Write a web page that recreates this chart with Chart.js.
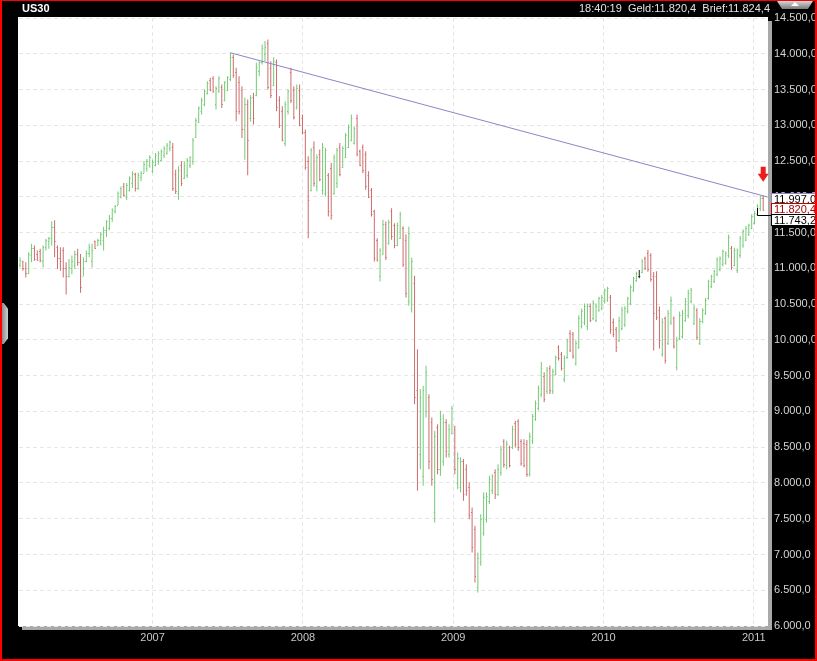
<!DOCTYPE html>
<html>
<head>
<meta charset="utf-8">
<style>
  html, body { margin: 0; padding: 0; background: #000; }
  #wrap { position: relative; width: 817px; height: 661px; background: #000; overflow: hidden; }
  #chart { position: absolute; left: 0; top: 0; }
  #frame { position: absolute; left: 0; top: 0; width: 817px; height: 661px; box-sizing: border-box;
           border: 2px solid #ff0000; border-top-width: 1px; pointer-events: none; }
  #title { position: absolute; left: 22px; top: 2px; color: #fff; font: bold 11px 'Liberation Sans', Arial, sans-serif; }
  #quote { position: absolute; right: 47px; top: 2px; color: #e2e2e2; font: 11px 'Liberation Sans', Arial, sans-serif; white-space: pre; }
  #btn { position: absolute; left: 777px; top: 1px; width: 36px; height: 8px;
         background: linear-gradient(#d8d8d8, #7a7a7a); clip-path: polygon(0 0, 100% 0, 86% 100%, 14% 100%); }
  #btn:after { content: ''; position: absolute; left: 14px; top: 1px; border-left: 4px solid transparent;
               border-right: 4px solid transparent; border-bottom: 4px solid #fff; }
  #tab { position: absolute; left: 2px; top: 303px; width: 6px; height: 41px;
         background: linear-gradient(90deg, #8a8a8a, #d0d0d0);
         clip-path: polygon(0 0, 30% 0, 100% 14%, 100% 86%, 30% 100%, 0 100%); }
</style>
</head>
<body>
<div id="wrap">
  <canvas id="chart" width="817" height="661"></canvas>
  <div id="title">US30</div>
  <div id="quote">18:40:19  Geld:11.820,4  Brief:11.824,4</div>
  <div id="btn"></div>
  <div id="tab"></div>
  <div id="frame"></div>
</div>
<script src="https://cdn.jsdelivr.net/npm/chart.js@4"></script>
<script>
// weekly bars, first week starting Monday 13 Feb 2006
const firstWeek = '2006-02-13';

const highs = [
  11155, 11108, 11084, 11226, 11344, 11320, 11249, 11273, 11320, 11414,
  11438, 11660, 11674, 11320, 11296, 11296, 11084, 11131, 11178, 11249,
  11273, 11202, 11155, 11249, 11344, 11344, 11391, 11414, 11509, 11580,
  11674, 11745, 11839, 11886, 12075, 12146, 12193, 12193, 12288, 12358,
  12335, 12335, 12358, 12500, 12530, 12580, 12520, 12613, 12636, 12660,
  12706, 12753, 12786, 12753, 12380, 12426, 12496, 12496, 12543, 12566,
  12823, 13103, 13267, 13384, 13500, 13617, 13664, 13687, 13547, 13687,
  13570, 13617, 13687, 14014, 13991, 13804, 13687, 13547, 13384, 13360,
  13420, 13454, 13874, 13897, 14131, 14180, 14200, 13897, 13953, 13920,
  13407, 13267, 13337, 13500, 13804, 13547, 13570, 13570, 13150, 12940,
  12566, 12683, 12776, 12590, 12660, 12753, 12683, 12333, 12473, 12590,
  12683, 12753, 12706, 12893, 13010, 13150, 12987, 13150, 12660, 12730,
  12636, 12356, 12123, 11820, 11422, 11282, 11679, 11656, 11679, 11842,
  11632, 11640, 11790, 11590, 11478, 11581, 11152, 10896, 9870, 9311,
  9358, 9638, 9241, 8915, 8729, 8822, 9008, 8962, 8892, 8822,
  9078, 8799, 8426, 8356, 8333, 8263, 8007, 7657, 7400, 7028,
  7564, 7867, 7867, 8100, 8123, 8193, 8263, 8519, 8612, 8589,
  8519, 8799, 8869, 8892, 8612, 8612, 8600, 8700, 8964, 9151,
  9362, 9690, 9549, 9620, 9643, 9596, 9783, 9924, 9830, 9783,
  10017, 10134, 10111, 9994, 10345, 10438, 10509, 10509, 10509, 10555,
  10509, 10602, 10626, 10719, 10743, 10626, 10298, 10181, 10322, 10462,
  10471, 10602, 10766, 10883, 10953, 10977, 11126, 11164, 11257, 11211,
  10950, 10959, 10465, 10302, 10326, 10419, 10607, 10326, 10044, 10396,
  10419, 10584, 10701, 10724, 10490, 10443, 10302, 10443, 10584, 10842,
  10912, 10982, 11156, 11170, 11264, 11240, 11475, 11311, 11287, 11278,
  11452, 11545, 11592, 11625, 11756, 11803, 11897, 12014, 12014
];

const lows = [
  11013, 10966, 10872, 10919, 11084, 11108, 11108, 11084, 11013, 11249,
  11273, 11320, 11155, 10990, 10966, 10872, 10636, 10872, 10919, 10990,
  11037, 10659, 10896, 11084, 11155, 11013, 11273, 11320, 11320, 11249,
  11438, 11532, 11650, 11768, 11886, 11981, 12004, 11957, 12075, 12122,
  12075, 12099, 12217, 12335, 12350, 12405, 12333, 12426, 12450, 12496,
  12543, 12590, 12636, 12080, 12040, 11960, 12150, 12250, 12263, 12403,
  12450, 12823, 13033, 13150, 13267, 13430, 13477, 13454, 13220, 13454,
  13243, 13337, 13477, 13617, 13664, 13057, 13150, 12823, 12520, 12300,
  13050, 13010, 13407, 13687, 13850, 13900, 13500, 13383, 13547, 13197,
  12963, 12776, 12706, 13150, 13313, 13080, 13220, 12987, 12870, 12380,
  11422, 12076, 12146, 12076, 12216, 12029, 12006, 11726, 11679, 12029,
  12123, 12286, 12403, 12543, 12683, 12776, 12730, 12566, 12426, 12333,
  12099, 11982, 11726, 11095, 11095, 10815, 11189, 11118, 11329, 11399,
  11282, 11310, 11410, 11020, 10593, 10476, 10383, 9101, 7890, 8193,
  7960, 8915, 8193, 7960, 7447, 8123, 8100, 8240, 8356, 8356,
  8682, 8123, 7913, 7867, 7750, 7820, 7494, 7028, 6608, 6469,
  6842, 7261, 7447, 7704, 7844, 7774, 7820, 8100, 8217, 8193,
  8217, 8473, 8496, 8449, 8240, 8217, 8085, 8090, 8543, 8871,
  9011, 9198, 9128, 9245, 9245, 9245, 9502, 9713, 9573, 9409,
  9736, 9830, 9736, 9643, 9877, 10158, 10204, 10134, 10251, 10275,
  10251, 10392, 10415, 10509, 10532, 10087, 10041, 9830, 9970, 10134,
  10181, 10368, 10485, 10672, 10813, 10860, 10930, 10977, 10953, 10813,
  9850, 10279, 9880, 9763, 9669, 9927, 10208, 9880, 9575, 9997,
  10021, 10255, 10302, 10513, 10208, 9997, 9927, 10232, 10349, 10560,
  10724, 10795, 10888, 10959, 11029, 11053, 11146, 10982, 11029, 10935,
  11146, 11287, 11381, 11451, 11545, 11615, 11733, 11803, 11810
];

const opens = [
  11040, 11100, 11010, 10940, 11190, 11290, 11200, 11240, 11100, 11300,
  11380, 11420, 11580, 11300, 11150, 11250, 11000, 10890, 11000, 11050,
  11200, 11090, 10900, 11100, 11220, 11100, 11380, 11330, 11400, 11400,
  11540, 11560, 11700, 11800, 11890, 12000, 12150, 12000, 12100, 12200,
  12320, 12120, 12280, 12340, 12400, 12450, 12360, 12450, 12500, 12520,
  12580, 12610, 12680, 12700, 12320, 12050, 12450, 12270, 12300, 12450,
  12500, 12840, 13050, 13200, 13300, 13450, 13640, 13660, 13300, 13480,
  13540, 13350, 13500, 13650, 13950, 13750, 13600, 13500, 12950, 13300,
  13100, 13400, 13420, 13760, 13880, 14000, 14150, 13800, 13560, 13880,
  13350, 13200, 12750, 13200, 13750, 13500, 13250, 13500, 13100, 12900,
  12500, 12100, 12700, 12150, 12600, 12100, 12050, 12300, 12400, 12050,
  12200, 12700, 12420, 12560, 12700, 12800, 12750, 13100, 12640, 12700,
  12600, 12300, 12100, 11800, 11400, 10900, 11200, 11620, 11350, 11800,
  11600, 11330, 11420, 11560, 11400, 10550, 10450, 10800, 9300, 8400,
  8100, 9000, 9200, 8850, 7600, 8780, 8200, 8300, 8850, 8400,
  8700, 8750, 8000, 7950, 8300, 8200, 7950, 7600, 7350, 6550,
  6900, 7300, 7500, 7750, 7900, 8150, 7850, 8150, 8580, 8250,
  8500, 8500, 8840, 8860, 8580, 8560, 8550, 8120, 8600, 8900,
  9050, 9250, 9500, 9280, 9600, 9280, 9530, 9900, 9800, 9450,
  9760, 10100, 10080, 9680, 9900, 10200, 10250, 10200, 10480, 10300,
  10280, 10420, 10440, 10540, 10560, 10600, 10250, 10150, 10000, 10170,
  10220, 10400, 10520, 10700, 10840, 10900, 10950, 11150, 11220, 11180,
  10900, 10900, 10420, 9800, 10300, 9960, 10250, 10300, 9620, 10030,
  10050, 10280, 10350, 10540, 10240, 10420, 9960, 10260, 10380, 10580,
  10750, 10820, 10920, 10990, 11060, 11080, 11180, 11290, 11050, 10970,
  11180, 11320, 11400, 11480, 11570, 11640, 11760, 11840, 11980
];

const closes = [
  11120, 11000, 10930, 11200, 11290, 11130, 11120, 11110, 11300, 11390,
  11420, 11580, 11380, 11140, 11100, 11000, 10890, 11020, 11100, 11200,
  11090, 10740, 11100, 11220, 11300, 11250, 11290, 11400, 11480, 11540,
  11660, 11700, 11820, 11870, 12050, 12120, 12020, 12170, 12260, 12340,
  12120, 12300, 12340, 12460, 12500, 12560, 12480, 12590, 12610, 12640,
  12680, 12730, 12760, 12120, 12080, 12380, 12200, 12450, 12520, 12550,
  12800, 13080, 13240, 13360, 13480, 13590, 13500, 13480, 13520, 13660,
  13300, 13600, 13670, 13960, 13700, 13200, 13200, 12950, 13300, 12800,
  13380, 13100, 13820, 13880, 14080, 14100, 13530, 13420, 13900, 13250,
  13000, 12800, 13300, 13480, 13350, 13120, 13520, 13000, 12900, 12420,
  11950, 12650, 12200, 12550, 12250, 12700, 12650, 11800, 11750, 12550,
  12650, 12320, 12680, 12860, 12980, 13100, 12960, 12600, 12450, 12380,
  12150, 12000, 11760, 11150, 11120, 11250, 11620, 11160, 11650, 11450,
  11320, 11600, 11760, 11060, 10650, 11500, 11100, 9200, 8500, 9200,
  9300, 9550, 8300, 8050, 8650, 8200, 8900, 8850, 8450, 8750,
  9050, 8200, 8350, 8300, 7850, 7900, 7550, 7100, 6700, 6950,
  7500, 7800, 7820, 8050, 8100, 7850, 8200, 8480, 8260, 8550,
  8250, 8760, 8550, 8500, 8280, 8250, 8120, 8650, 8930, 9120,
  9330, 9600, 9180, 9580, 9300, 9560, 9760, 9740, 9600, 9750,
  9990, 9860, 9770, 9960, 10300, 10400, 10480, 10470, 10280, 10520,
  10480, 10580, 10600, 10700, 10720, 10150, 10080, 9900, 10280, 10420,
  10440, 10580, 10740, 10860, 10930, 10900, 11100, 11000, 10990, 10850,
  10380, 10320, 10000, 10250, 9720, 10380, 10560, 9920, 10000, 10350,
  10380, 10550, 10660, 10700, 10450, 10040, 10260, 10420, 10560, 10820,
  10890, 10960, 11130, 11150, 11240, 11220, 11440, 11020, 11260, 11250,
  11420, 11520, 11570, 11600, 11730, 11780, 11870, 11980, 11820
];

const yearTicks = [2007, 2008, 2009, 2010, 2011];
const priceMin = 6000;
const priceMax = 14500;
const priceStep = 500;

// resistance line drawn on the chart
const trendDates = ['2007-07-09', '2011-02-04'];
const trendValues = [14014, 11997];

const lastPrice = 11820.4;
const markPrice = 11743.2;

const upColor = '#74ca74';
const downColor = '#cc6b6b';
const flatColor = '#222222';
const trendColor = '#8e84c6';
const family = "'Liberation Sans', Arial, sans-serif";

function decYear(ms) {
  const y = new Date(ms).getUTCFullYear();
  const a = Date.UTC(y, 0, 1), b = Date.UTC(y + 1, 0, 1);
  return y + (ms - a) / (b - a);
}

function fmt(v) {
  const parts = v.toFixed(1).split('.');
  return parts[0].replace(/\B(?=(\d{3})+(?!\d))/g, '.') + ',' + parts[1];
}

const startMs = Date.parse(firstWeek);
const weekX = highs.map((h, i) => decYear(startMs + i * 7 * 86400000));
const barColors = closes.map((c, i) => c > opens[i] ? upColor : (c < opens[i] ? downColor : flatColor));

const plotBg = {
  id: 'plotBg',
  beforeDraw(chart) {
    const { ctx, chartArea: a } = chart;
    ctx.save();
    ctx.fillStyle = '#a9a9a9';
    ctx.fillRect(a.left + 3, a.top + 3, a.right - a.left + 1, a.bottom - a.top + 1);
    ctx.fillStyle = '#ffffff';
    ctx.fillRect(a.left - 1, a.top - 1, a.right - a.left + 1, a.bottom - a.top + 1);
    ctx.restore();
  }
};

// open / close ticks of each bar
const ohlcTicks = {
  id: 'ohlcTicks',
  afterDatasetsDraw(chart) {
    const { ctx, scales: { x, y } } = chart;
    ctx.save();
    ctx.lineWidth = 1;
    weekX.forEach((wx, i) => {
      const px = x.getPixelForValue(wx);
      const yo = Math.round(y.getPixelForValue(opens[i])) + 0.5;
      const yc = Math.round(y.getPixelForValue(closes[i])) + 0.5;
      ctx.strokeStyle = barColors[i];
      ctx.beginPath();
      ctx.moveTo(px - 1, yo); ctx.lineTo(px, yo);
      ctx.moveTo(px, yc); ctx.lineTo(px + 1, yc);
      ctx.stroke();
    });
    ctx.restore();
  }
};

const priceMarks = {
  id: 'priceMarks',
  afterDraw(chart) {
    const { ctx, chartArea: a, scales: { x, y } } = chart;
    const n = highs.length - 1;
    const lastX = x.getPixelForValue(weekX[n]);
    ctx.save();

    // red arrow above the last bar
    const tip = y.getPixelForValue(highs[n]) - 14;
    ctx.fillStyle = '#ee1c1c';
    ctx.beginPath();
    ctx.moveTo(lastX - 2.5, tip - 15);
    ctx.lineTo(lastX + 2.5, tip - 15);
    ctx.lineTo(lastX + 2.5, tip - 8);
    ctx.lineTo(lastX + 5.5, tip - 8);
    ctx.lineTo(lastX, tip);
    ctx.lineTo(lastX - 5.5, tip - 8);
    ctx.lineTo(lastX - 2.5, tip - 8);
    ctx.closePath();
    ctx.fill();

    // marker line at the reference price
    const yLast = y.getPixelForValue(lastPrice);
    const yMark = Math.round(y.getPixelForValue(markPrice)) + 0.5;
    const mx = Math.round(x.getPixelForValue(weekX[n - 2])) + 0.5;
    ctx.strokeStyle = '#000';
    ctx.lineWidth = 1;
    ctx.beginPath();
    ctx.moveTo(mx, Math.round(yLast) - 2);
    ctx.lineTo(mx, yMark);
    ctx.lineTo(a.right + 3, yMark);
    ctx.stroke();

    // value boxes on the price axis
    ctx.font = '11px ' + family;
    ctx.textBaseline = 'middle';
    const box = (text, cy, border, color) => {
      const bx = a.right + 3, bw = 47, bh = 11;
      const by = Math.round(cy - bh / 2) + 0.5;
      ctx.fillStyle = '#fff';
      ctx.fillRect(bx, by - 0.5, bw + 1, bh + 1);
      ctx.strokeStyle = border;
      ctx.strokeRect(bx + 0.5, by, bw, bh);
      ctx.fillStyle = color;
      ctx.fillText(text, bx + 3, by + bh / 2 + 0.5);
    };
    const endValue = trendValues[trendValues.length - 1];
    box(fmt(endValue), y.getPixelForValue(endValue) + 1.5, trendColor, '#000');
    box(fmt(lastPrice), yLast - 1, '#c00000', '#b00000');
    box(fmt(markPrice), y.getPixelForValue(markPrice) + 4.5, '#000', '#000');
    ctx.restore();
  }
};

new Chart(document.getElementById('chart'), {
  type: 'bar',
  data: {
    datasets: [
      {
        type: 'line',
        order: 0,
        data: trendDates.map((d, i) => ({ x: decYear(Date.parse(d)), y: trendValues[i] })),
        borderColor: trendColor,
        borderWidth: 1,
        pointRadius: 0,
        fill: false
      },
      {
        type: 'bar',
        order: 1,
        data: weekX.map((wx, i) => ({ x: wx, y: [lows[i], highs[i]] })),
        backgroundColor: barColors,
        borderWidth: 0,
        barThickness: 1,
        inflateAmount: 0,
        grouped: false
      }
    ]
  },
  options: {
    responsive: false,
    animation: false,
    devicePixelRatio: 1,
    layout: { padding: { left: 19, top: 18, right: 0, bottom: 0 } },
    plugins: { legend: { display: false }, tooltip: { enabled: false } },
    scales: {
      x: {
        type: 'linear',
        offset: false,
        min: 2006.111,
        max: 2011.095,
        afterBuildTicks: s => { s.ticks = yearTicks.map(v => ({ value: v })); },
        afterFit: s => { s.height = 35; },
        ticks: {
          color: '#c8c8c8', font: { family, size: 11 }, padding: 5,
          maxRotation: 0, autoSkip: false, callback: v => String(v)
        },
        grid: { color: '#e6e6e6', drawTicks: false, offset: false },
        border: { display: false, dash: [4, 3] }
      },
      y: {
        position: 'right',
        min: priceMin,
        max: priceMax,
        afterBuildTicks: s => {
          const t = [];
          for (let v = priceMin; v <= priceMax; v += priceStep) t.push({ value: v });
          s.ticks = t;
        },
        afterFit: s => { s.width = 49; },
        ticks: { color: '#d4d4d4', font: { family, size: 11 }, padding: 6, callback: v => fmt(v) },
        grid: { color: '#e6e6e6', drawTicks: false },
        border: { display: false, dash: [4, 3] }
      }
    }
  },
  plugins: [plotBg, ohlcTicks, priceMarks]
});
</script>
</body>
</html>
